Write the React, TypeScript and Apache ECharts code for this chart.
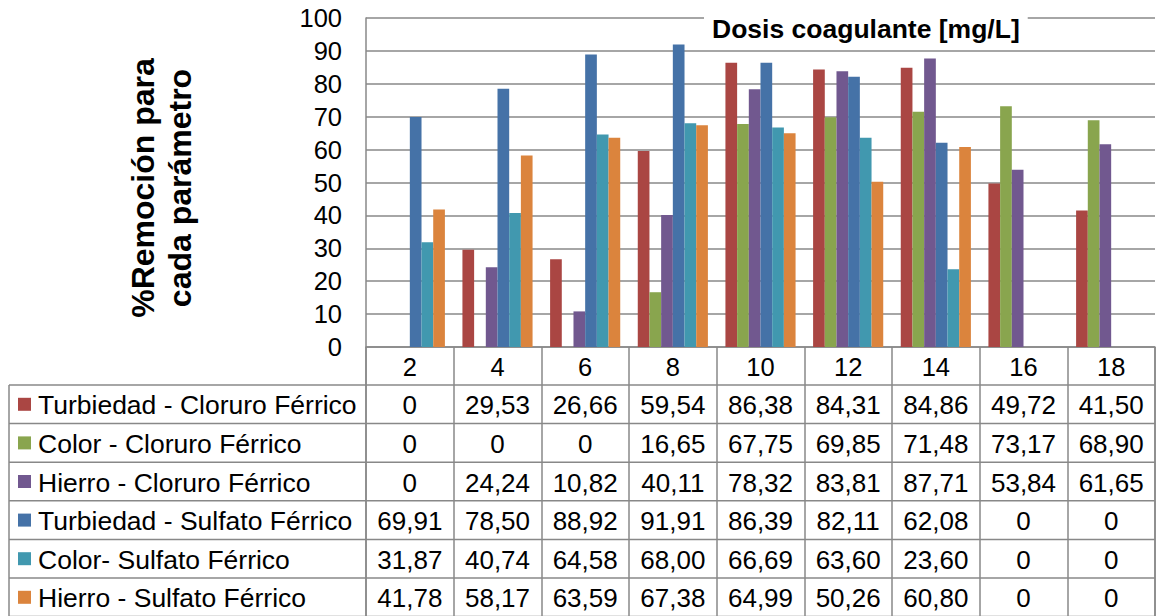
import React, { useEffect, useRef } from 'react';
import * as echarts from 'echarts';

const categories = ['2', '4', '6', '8', '10', '12', '14', '16', '18'];
const seriesNames = [
  'Turbiedad - Cloruro Férrico',
  'Color - Cloruro Férrico',
  'Hierro - Cloruro Férrico',
  'Turbiedad - Sulfato Férrico',
  'Color- Sulfato Férrico',
  'Hierro - Sulfato Férrico',
];
const turbiedadCloruro = [0, 29.53, 26.66, 59.54, 86.38, 84.31, 84.86, 49.72, 41.5];
const colorCloruro = [0, 0, 0, 16.65, 67.75, 69.85, 71.48, 73.17, 68.9];
const hierroCloruro = [0, 24.24, 10.82, 40.11, 78.32, 83.81, 87.71, 53.84, 61.65];
const turbiedadSulfato = [69.91, 78.5, 88.92, 91.91, 86.39, 82.11, 62.08, 0, 0];
const colorSulfato = [31.87, 40.74, 64.58, 68.0, 66.69, 63.6, 23.6, 0, 0];
const hierroSulfato = [41.78, 58.17, 63.59, 67.38, 64.99, 50.26, 60.8, 0, 0];
const seriesValues = [turbiedadCloruro, colorCloruro, hierroCloruro, turbiedadSulfato, colorSulfato, hierroSulfato];
const colors = ['#AA4643', '#89A54E', '#71588F', '#4572A7', '#4198AF', '#DB843D'];
const yMin = 0;
const yMax = 100;
const yInterval = 10;
const chartTitle = 'Dosis coagulante [mg/L]';
const yTitle = '%Remoción para\ncada parámetro';

const FONT = 'Arial, "Liberation Sans", sans-serif';
const GRID_LEFT = 366;
const GRID_RIGHT_X = 1155;
const GRID_TOP = 18;
const AXIS_Y = 347;
const HEADER_BOTTOM = 385;
const ROW_H = 38.6;
const TABLE_LEFT = 9;
const LINE = '#888888';

function fmt(v: number) {
  return v === 0 ? '0' : v.toFixed(2).replace('.', ',');
}

export default function App() {
  const ref = useRef<HTMLDivElement>(null);
  useEffect(() => {
    if (!ref.current) return;
    const chart = echarts.init(ref.current, undefined, { renderer: 'svg' });
    const option: any = {
      animation: false,
      backgroundColor: '#fff',
      title: {
        text: chartTitle,
        left: 704,
        top: 11,
        padding: [4, 8],
        backgroundColor: '#fff',
        textStyle: { fontFamily: FONT, fontSize: 26.5, fontWeight: 'bold', color: '#000' },
      },
      grid: {
        left: GRID_LEFT,
        right: 1160 - GRID_RIGHT_X,
        top: GRID_TOP,
        bottom: 616 - AXIS_Y,
        containLabel: false,
      },
      xAxis: {
        type: 'category',
        data: categories,
        axisLine: { show: true, lineStyle: { color: LINE, width: 1.5 } },
        axisTick: { show: true, interval: 0, length: 616 - AXIS_Y, lineStyle: { color: LINE, width: 1.5 } },
        axisLabel: { interval: 0, margin: 7, fontFamily: FONT, fontSize: 25.5, color: '#000' },
        splitLine: { show: false },
      },
      yAxis: {
        type: 'value',
        min: yMin,
        max: yMax,
        interval: yInterval,
        axisLine: { show: true, lineStyle: { color: LINE, width: 1.5 } },
        axisTick: { show: false },
        axisLabel: { margin: 24, fontFamily: FONT, fontSize: 25.5, color: '#000' },
        splitLine: { show: true, lineStyle: { color: LINE, width: 1.5 } },
      },
      series: seriesNames.map((name, i) => ({
        name,
        type: 'bar',
        data: seriesValues[i],
        barGap: '0%',
        barCategoryGap: '20%',
        itemStyle: { color: colors[i] },
      })),
    };
    chart.setOption(option);

    const xs = categories.map((c) => chart.convertToPixel({ xAxisIndex: 0 }, c) as number);
    const graphics: any[] = [];
    graphics.push({
      type: 'text',
      x: 161,
      y: 188,
      rotation: Math.PI / 2,
      style: {
        text: yTitle,
        fontFamily: FONT,
        fontSize: 32,
        fontWeight: 'bold',
        lineHeight: 37,
        align: 'center',
        verticalAlign: 'middle',
        fill: '#000',
      },
    });
    for (let r = 0; r <= seriesNames.length; r++) {
      const y = HEADER_BOTTOM + r * ROW_H;
      graphics.push({
        type: 'line',
        shape: { x1: TABLE_LEFT, y1: y, x2: GRID_RIGHT_X, y2: y },
        style: { stroke: LINE, lineWidth: 1.5 },
      });
    }
    graphics.push({
      type: 'line',
      shape: { x1: TABLE_LEFT, y1: HEADER_BOTTOM, x2: TABLE_LEFT, y2: 616 },
      style: { stroke: LINE, lineWidth: 1.5 },
    });
    graphics.push({
      type: 'line',
      shape: { x1: GRID_LEFT, y1: AXIS_Y, x2: GRID_LEFT, y2: 616 },
      style: { stroke: LINE, lineWidth: 1.5 },
    });
    graphics.push({
      type: 'line',
      shape: { x1: GRID_RIGHT_X, y1: AXIS_Y, x2: GRID_RIGHT_X, y2: 616 },
      style: { stroke: LINE, lineWidth: 1.5 },
    });
    seriesNames.forEach((name, r) => {
      const cy = HEADER_BOTTOM + (r + 0.5) * ROW_H;
      graphics.push({
        type: 'rect',
        shape: { x: 18, y: cy - 6.5, width: 13, height: 13 },
        style: { fill: colors[r] },
      });
      graphics.push({
        type: 'text',
        x: 38,
        y: cy + 1,
        style: { text: name, fontFamily: FONT, fontSize: 26.5, fill: '#000', align: 'left', verticalAlign: 'middle' },
      });
      seriesValues[r].forEach((v, c) => {
        graphics.push({
          type: 'text',
          x: xs[c],
          y: cy + 1,
          style: { text: fmt(v), fontFamily: FONT, fontSize: 26, fill: '#000', align: 'center', verticalAlign: 'middle' },
        });
      });
    });
    chart.setOption({ graphic: graphics });
    return () => chart.dispose();
  }, []);
  return <div ref={ref} style={{ position: 'fixed', left: 0, top: 0, width: 1160, height: 616 }} />;
}
